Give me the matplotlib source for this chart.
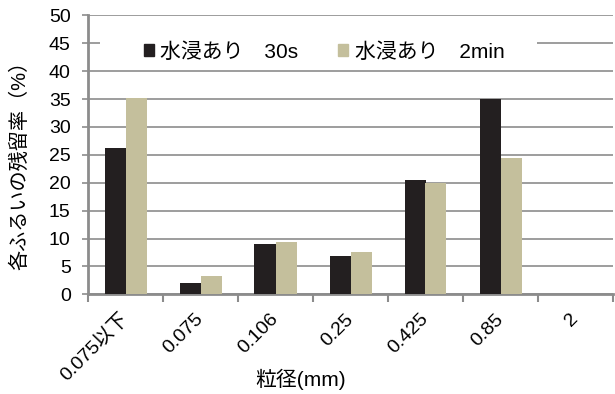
import numpy as np
import matplotlib.pyplot as plt
from matplotlib.patches import Patch, Rectangle

plt.rcParams['font.family'] = ['Liberation Sans', 'Noto Sans CJK JP']

# 粒径ごとの残留率 (%)
sizes = ['0.075以下', '0.075', '0.106', '0.25', '0.425', '0.85', '2']
soak_30s = [26.2, 2.1, 9.0, 6.9, 20.4, 35.0, 0.0]
soak_2min = [35.2, 3.2, 9.3, 7.5, 20.0, 24.5, 0.0]
names = ['水浸あり　30s', '水浸あり　2min']

c_dark = '#231f20'
c_beige = '#c4bf9c'
c_grid = '#8c8c8c'
fs = 14

fig = plt.figure(figsize=(6.15, 3.94), dpi=100)
ax = fig.add_axes([88 / 615, 1 - 294.3 / 394, 525 / 615, 279 / 394])

x = np.arange(len(sizes))
w = 0.28
ax.bar(x - w / 2, soak_30s, w, color=c_dark, zorder=3)
ax.bar(x + w / 2, soak_2min, w, color=c_beige, zorder=3)

ax.set_xlim(-0.5, len(sizes) - 0.5)
ax.set_ylim(0, 50)
ax.set_yticks(np.arange(0, 51, 5))
ax.yaxis.grid(True, color=c_grid, linewidth=1.2, zorder=0)
ax.set_axisbelow(True)

# ラベルは中央、目盛り線はカテゴリの境界
ax.set_xticks(x)
ax.set_xticklabels(sizes, rotation=45, ha='right', va='center',
                   rotation_mode='anchor', fontsize=fs)
ax.set_xticks(np.arange(-0.5, len(sizes), 1), minor=True)
ax.tick_params(axis='x', which='major', length=0, pad=16)
ax.tick_params(axis='x', which='minor', length=6, width=1.5, color=c_grid)
ax.tick_params(axis='y', length=4.5, width=1.2, color=c_grid, labelsize=fs, pad=8)

for s in ['top', 'right']:
    ax.spines[s].set_visible(False)
for s in ['left', 'bottom']:
    ax.spines[s].set_color(c_grid)
    ax.spines[s].set_linewidth(2)

ax.set_ylabel('各ふるいの残留率（%）', fontsize=14.5, va='center')
ax.yaxis.set_label_coords(-68 / 525, 0.48)
ax.set_xlabel('粒径(mm)', fontsize=15, va='center')
ax.xaxis.set_label_coords((301 - 88) / 525, -85 / 279)

# 凡例の白い背景
ax.add_patch(Rectangle((100 / 615, 1 - 67 / 394), 437 / 615, 37 / 394,
                       transform=fig.transFigure, facecolor='white',
                       edgecolor='none', zorder=2))
handles = [Patch(color=c_dark), Patch(color=c_beige)]
ax.legend(handles, names, ncol=2, loc='center',
          bbox_to_anchor=(324 / 615, 1 - 52 / 394), bbox_transform=fig.transFigure,
          frameon=False, fontsize=15, handlelength=0.5, handleheight=0.5,
          handletextpad=0.3, columnspacing=1.9, borderpad=0.2)

fig.savefig('out.png', dpi=100)
